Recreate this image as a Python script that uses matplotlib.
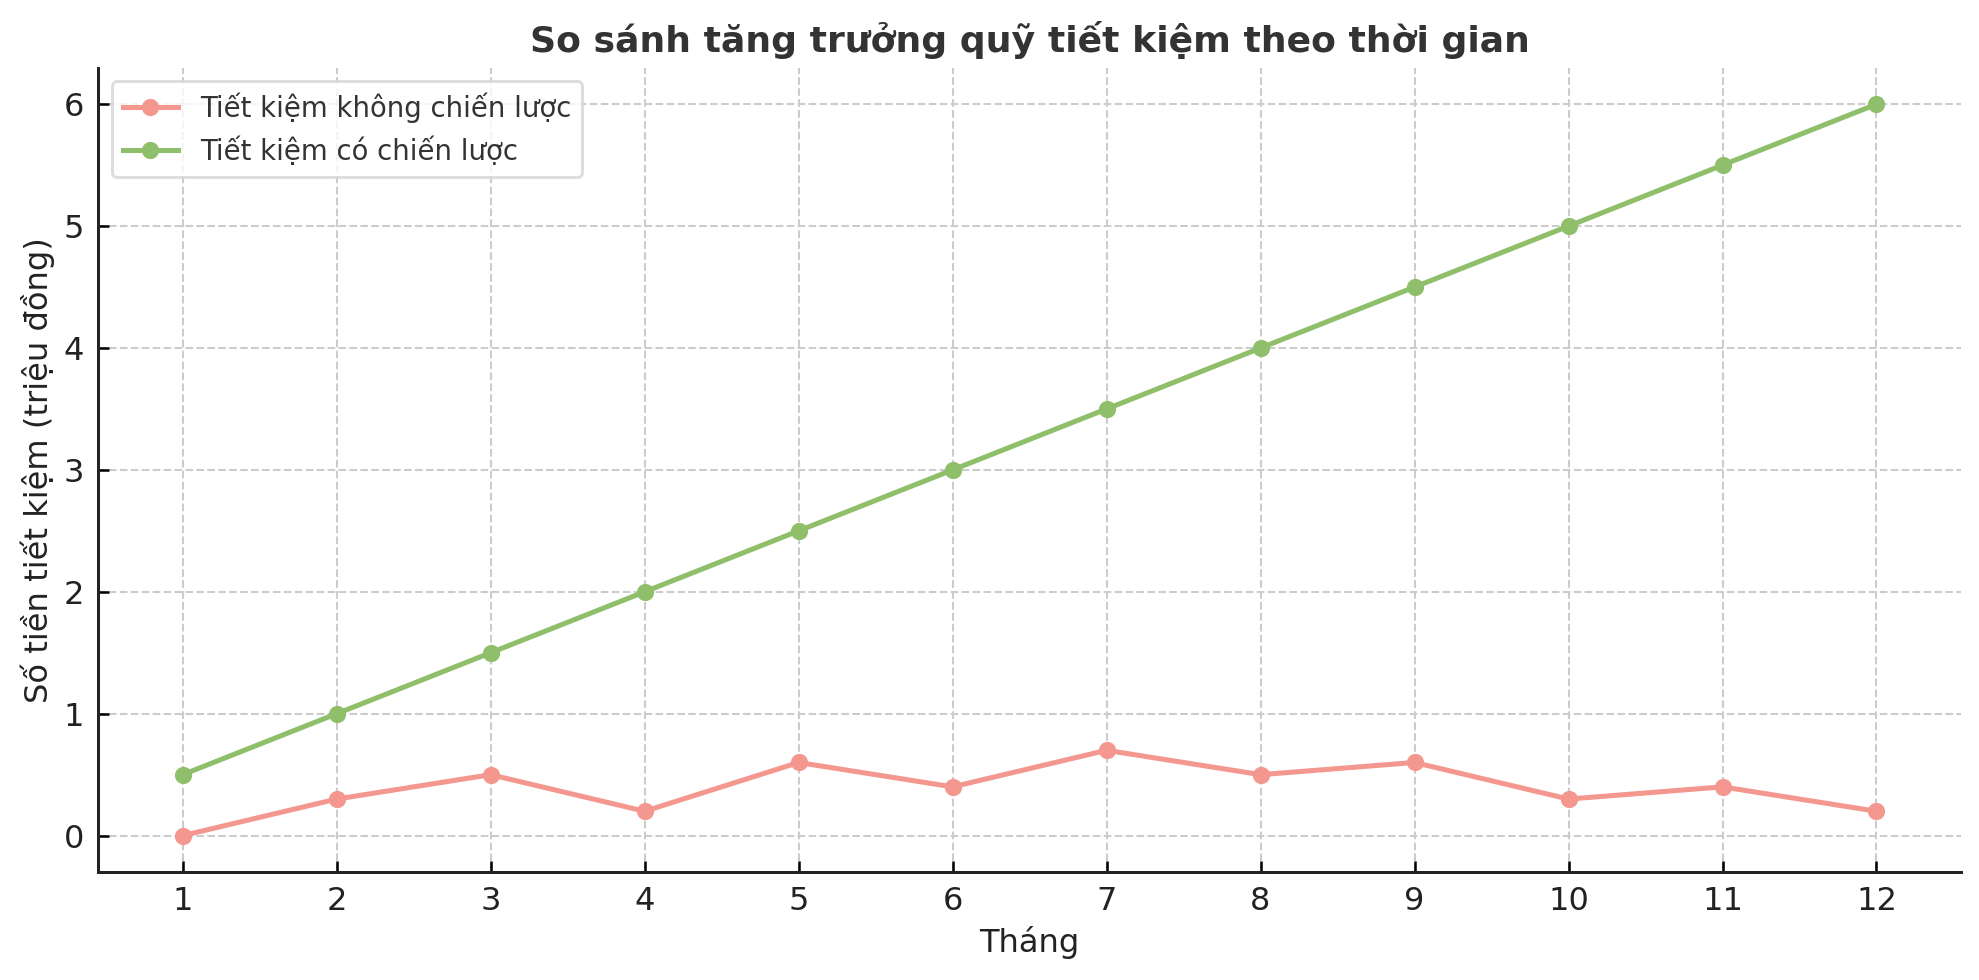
import matplotlib
matplotlib.use("Agg")
import matplotlib.pyplot as plt

months = list(range(1, 13))
no_strategy = [0, 0.3, 0.5, 0.2, 0.6, 0.4, 0.7, 0.5, 0.6, 0.3, 0.4, 0.2]
with_strategy = [0.5, 1.0, 1.5, 2.0, 2.5, 3.0, 3.5, 4.0, 4.5, 5.0, 5.5, 6.0]

label_no = "Tiết kiệm không chiến lược"
label_yes = "Tiết kiệm có chiến lược"

plt.rcParams['font.family'] = ['DejaVu Sans']

fig = plt.figure(figsize=(1979 / 165, 980 / 165), dpi=165)
ax = fig.add_axes([0.0495, 0.110, 0.9415, 0.821])

ax.plot(months, no_strategy, color='#F4978E', marker='o', lw=2.2, ms=6.5, label=label_no)
ax.plot(months, with_strategy, color='#8FBF6A', marker='o', lw=2.2, ms=6.5, label=label_yes)

ax.set_title("So sánh tăng trưởng quỹ tiết kiệm theo thời gian",
             fontsize=15.8, fontweight='bold', color='#333333', pad=7)
ax.set_xlabel("Tháng", fontsize=14, color='#222222')
ax.set_ylabel("Số tiền tiết kiệm (triệu đồng)", fontsize=14, color='#222222')
ax.set_xticks(months)

ax.grid(True, linestyle='--', color='#cccccc', lw=0.9)
ax.set_axisbelow(True)
ax.spines['top'].set_visible(False)
ax.spines['right'].set_visible(False)
for s in ('left', 'bottom'):
    ax.spines[s].set_linewidth(1.3)
    ax.spines[s].set_color('#222222')
ax.tick_params(direction='in', length=5, width=1.1, labelsize=14, labelcolor='#222222', pad=6)

leg = ax.legend(loc='upper left', fontsize=12, frameon=True)
leg.get_frame().set_edgecolor('#d5d5d5')
leg.get_frame().set_linewidth(1.3)
for t in leg.get_texts():
    t.set_color('#333333')

fig.savefig("out.png", dpi=165)
